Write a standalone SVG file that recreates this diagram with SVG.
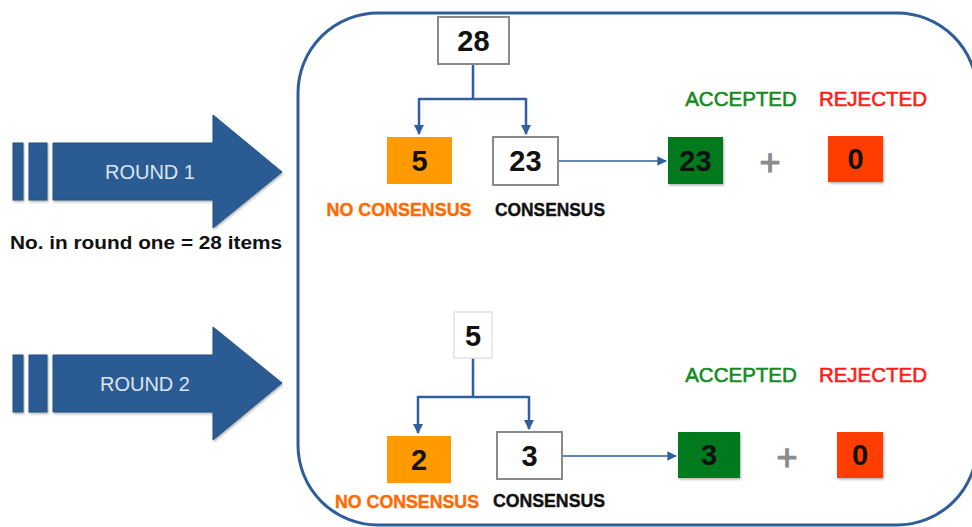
<svg xmlns="http://www.w3.org/2000/svg" width="972" height="527" viewBox="0 0 972 527">
<defs>
<marker id="ah" viewBox="0 0 10 10" refX="9" refY="5" markerWidth="4" markerHeight="4" orient="auto" markerUnits="strokeWidth"><path d="M0,0 L10,5 L0,10 z" fill="#2F5F9C"/></marker>
<marker id="ah2" viewBox="0 0 10 10" refX="9" refY="5" markerWidth="6" markerHeight="6" orient="auto" markerUnits="strokeWidth"><path d="M0,0 L10,5 L0,10 z" fill="#2F5F9C"/></marker>
<filter id="sh" x="-10%" y="-10%" width="130%" height="130%"><feDropShadow dx="1" dy="1.5" stdDeviation="1.2" flood-color="#000" flood-opacity="0.3"/></filter>
</defs>
<style>
.arrow{fill:#2C5B93;stroke:#24507F;stroke-width:1;filter:url(#sh)}
.rtxt{font-family:"Liberation Sans",Arial,sans-serif;font-size:20px;fill:#DCE5F0;text-anchor:middle}
.num{font-family:"Liberation Sans",Arial,sans-serif;font-size:29px;font-weight:bold;fill:#111;text-anchor:middle}
.wbox{fill:#fff;stroke:#8A8A8A;stroke-width:2}
.obox{fill:#FF9A00}
.gbox{fill:#007A1A;filter:url(#sh)}
.rbox{fill:#FF3C00;filter:url(#sh)}
.lbl{font-family:"Liberation Sans",Arial,sans-serif;font-weight:bold;font-size:18.5px;text-anchor:middle;stroke-width:0.4}
.acc{font-family:"Liberation Sans",Arial,sans-serif;font-size:20.5px;fill:#138A1E;text-anchor:middle;stroke:#138A1E;stroke-width:0.6}
.rej{font-family:"Liberation Sans",Arial,sans-serif;font-size:20.5px;fill:#FF1A1A;text-anchor:middle;stroke:#FF1A1A;stroke-width:0.6}
.plus{font-family:"Liberation Sans",Arial,sans-serif;font-size:36px;fill:#8C8C8C;text-anchor:middle;stroke:#8C8C8C;stroke-width:1.2}
.tree{fill:none;stroke:#2F5F9C;stroke-width:2.5}
.flow{fill:none;stroke:#2F5F9C;stroke-width:1.6}
</style>
<rect x="298" y="13" width="679" height="512" rx="80" ry="80" fill="none" stroke="#2E5E9A" stroke-width="3"/>
<g id="round1">
<rect class="arrow" x="13" y="143" width="10" height="57"/>
<rect class="arrow" x="29" y="143" width="18" height="57"/>
<path class="arrow" d="M53,143 H213 V115 L282,172 L213,228 V200 H53 Z"/>
<text class="rtxt" x="150" y="179">ROUND 1</text>
</g>
<text x="10" y="249" font-family="Liberation Sans,Arial,sans-serif" font-weight="bold" font-size="18" fill="#111" textLength="272" lengthAdjust="spacingAndGlyphs">No. in round one = 28 items</text>
<g id="round2">
<rect class="arrow" x="13" y="355" width="10" height="57"/>
<rect class="arrow" x="29" y="355" width="18" height="57"/>
<path class="arrow" d="M53,355 H213 V327 L282,383 L213,440 V412 H53 Z"/>
<text class="rtxt" x="145" y="391">ROUND 2</text>
</g>
<g id="connectors">
<path class="tree" d="M473,64 V99 M419,99 H526" />
<path class="tree" d="M419,98 V134" marker-end="url(#ah)"/>
<path class="tree" d="M526,98 V134" marker-end="url(#ah)"/>
<path class="flow" d="M558,161 H666" marker-end="url(#ah2)"/>
<path class="tree" d="M473,358 V397 M418,397 H529" />
<path class="tree" d="M418,396 V433" marker-end="url(#ah)"/>
<path class="tree" d="M529,396 V429" marker-end="url(#ah)"/>
<path class="flow" d="M562,456 H676" marker-end="url(#ah2)"/>
</g>
<g id="n28"><rect class="wbox" x="438" y="17" width="71" height="47"/><text class="num" x="473.5" y="51">28</text></g>
<g id="n5a"><rect class="obox" x="387" y="137" width="65" height="47"/><text class="num" x="419.5" y="171">5</text></g>
<g id="n23"><rect class="wbox" x="493" y="137" width="65" height="48"/><text class="num" x="525.5" y="171">23</text></g>
<text class="lbl" x="399" y="216" fill="#FF6A00" stroke="#FF6A00" textLength="145" lengthAdjust="spacingAndGlyphs">NO CONSENSUS</text>
<text class="lbl" x="550" y="216" fill="#111" stroke="#111" textLength="110" lengthAdjust="spacingAndGlyphs">CONSENSUS</text>
<text class="acc" x="741" y="106">ACCEPTED</text>
<text class="rej" x="873" y="106">REJECTED</text>
<g id="acc23"><rect class="gbox" x="668" y="137" width="55" height="47"/><text class="num" x="695.5" y="171">23</text></g>
<text class="plus" x="770" y="175">+</text>
<g id="rej0a"><rect class="rbox" x="828" y="136" width="55" height="46"/><text class="num" x="855.5" y="169">0</text></g>
<g id="n5b"><rect x="454" y="312" width="38" height="46" fill="#fff" stroke="#E2E2E2" stroke-width="1.5"/><text class="num" x="473" y="346">5</text></g>
<g id="n2"><rect class="obox" x="387" y="436" width="64" height="47"/><text class="num" x="419" y="470">2</text></g>
<g id="n3"><rect class="wbox" x="497" y="432" width="65" height="47"/><text class="num" x="529.5" y="466">3</text></g>
<text class="lbl" x="407" y="508" fill="#FF6A00" stroke="#FF6A00" textLength="144" lengthAdjust="spacingAndGlyphs">NO CONSENSUS</text>
<text class="lbl" x="549" y="507" fill="#111" stroke="#111" textLength="112" lengthAdjust="spacingAndGlyphs">CONSENSUS</text>
<text class="acc" x="741" y="382">ACCEPTED</text>
<text class="rej" x="873" y="382">REJECTED</text>
<g id="acc3"><rect class="gbox" x="678" y="432" width="62" height="46"/><text class="num" x="709" y="465">3</text></g>
<text class="plus" x="787" y="470">+</text>
<g id="rej0b"><rect class="rbox" x="837" y="432" width="46" height="46"/><text class="num" x="860" y="465">0</text></g>
</svg>
